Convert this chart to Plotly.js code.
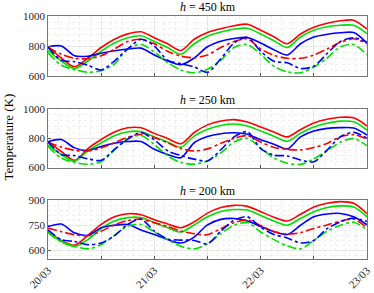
<!DOCTYPE html>
<html><head><meta charset="utf-8">
<script src="https://cdn.plot.ly/plotly-3.0.1.min.js"></script>
<style>html,body{margin:0;padding:0;background:#fff}#chart{width:374px;height:293px}</style>
</head><body><div id="chart"></div>
<script>
// hours since 20/03 00:00
const hours = [0,3,6,9,12,15,18,21,24,27,30,33,36,39,42,45,48,51,54,57,60,63,66,69,72];
const dayTickVals = [0,12,24,36,48,60,72];
const dayTickText = ['20/03','','21/03','','22/03','','23/03'];
const panelTitles = ['450 km','250 km','200 km'];

// h = 450 km
const p450RedSolid   = [795,720,662,720,790,845,881,895,855,815,770,845,890,915,935,945,905,862,815,880,925,952,968,972,912];
const p450GreenSolid = [770,700,650,700,765,820,855,868,830,790,745,815,865,893,912,918,880,835,790,860,905,928,938,938,882];
const p450BlueSolid  = [795,800,735,732,752,768,780,786,740,700,675,720,795,832,850,857,820,775,740,815,860,878,888,890,820];
const p450RedDash    = [790,745,718,715,735,780,830,845,815,765,732,722,740,790,830,848,780,738,718,718,740,780,825,848,815];
const p450GreenDash  = [755,672,642,625,635,680,780,810,760,690,640,622,645,705,790,810,745,665,628,622,660,720,795,810,740];
const p450BlueDash   = [792,705,695,672,640,700,781,845,800,705,682,660,625,715,820,857,765,698,688,650,665,750,830,855,825];

// h = 250 km
const p250RedSolid   = [777,710,650,730,792,843,872,872,834,799,763,840,892,918,928,912,878,844,810,860,905,930,944,940,884];
const p250GreenSolid = [755,690,643,715,768,818,845,846,810,775,740,815,862,888,898,884,850,815,780,835,878,903,918,913,857];
const p250BlueSolid  = [777,792,735,717,745,766,778,778,725,690,668,770,812,832,838,828,790,760,728,810,850,868,873,870,823];
const p250RedDash    = [773,740,718,714,735,770,808,827,805,770,730,714,728,766,800,818,775,738,725,721,738,765,812,825,796];
const p250GreenDash  = [745,665,635,623,640,720,798,820,758,680,635,624,645,700,775,800,735,665,630,622,660,715,775,798,750];
const p250BlueDash   = [777,690,682,660,650,725,795,840,790,715,682,658,645,722,810,845,730,685,680,652,640,720,810,841,800];

// h = 200 km
const p200RedSolid   = [715,660,632,690,755,800,818,812,782,758,735,770,822,855,868,862,830,798,775,815,858,880,890,880,818];
const p200GreenSolid = [710,655,625,665,730,775,795,795,765,735,710,752,800,832,843,840,808,775,750,790,830,855,865,858,800];
const p200BlueSolid  = [742,757,705,690,735,750,754,722,695,665,645,680,752,785,790,775,743,712,695,750,800,817,820,800,753];
const p200RedDash    = [733,712,694,688,715,752,778,786,765,743,715,700,694,730,765,782,748,713,698,706,731,752,775,786,737];
const p200GreenDash  = [705,650,625,610,635,690,745,755,710,665,625,610,640,700,750,766,710,665,628,610,660,715,750,768,723];
const p200BlueDash   = [723,665,654,635,645,688,755,786,715,668,662,660,640,715,780,800,738,695,675,645,660,730,770,792,772];

const panels = [
  {xa:'x',  ya:'y',  series:[p450RedSolid,p450GreenSolid,p450BlueSolid,p450RedDash,p450GreenDash,p450BlueDash]},
  {xa:'x2', ya:'y2', series:[p250RedSolid,p250GreenSolid,p250BlueSolid,p250RedDash,p250GreenDash,p250BlueDash]},
  {xa:'x3', ya:'y3', series:[p200RedSolid,p200GreenSolid,p200BlueSolid,p200RedDash,p200GreenDash,p200BlueDash]}
];
const colors = ['#ff0000','#00e000','#0000ff','#ff0000','#00e000','#0000ff'];
const dashes = ['solid','solid','solid','dashdot','dashdot','dashdot'];

const traces = [];
panels.forEach(p => {
  p.series.forEach((vals, i) => {
    traces.push({x: hours, y: vals, xaxis: p.xa, yaxis: p.ya, type: 'scatter', mode: 'lines',
      line: {color: colors[i], dash: dashes[i], width: 1.6, shape: 'spline', smoothing: 0.8},
      hoverinfo: 'skip', showlegend: false});
  });
});

const font = {family: 'Liberation Serif, DejaVu Serif, serif', size: 11, color: '#262626'};
function xAxis(anchor, showLabels) {
  return {anchor: anchor, range: [0,72], tickmode: 'array', tickvals: dayTickVals,
    ticktext: showLabels ? dayTickText : dayTickText.map(() => ''),
    tickangle: -45, ticks: 'inside', ticklen: 3, tickcolor: '#555',
    showline: true, mirror: true, linecolor: '#555', linewidth: 0.8,
    showgrid: true, gridcolor: '#dcdcdc', gridwidth: 0.6, zeroline: false,
    minor: {tickmode: 'linear', tick0: 0, dtick: 2.4, showgrid: true, gridcolor: '#e2e2e2', griddash: 'dot', gridwidth: 0.6},
    tickfont: font, fixedrange: true};
}
function yAxis(anchor, domain, range, tickvals, minorStep) {
  return {anchor: anchor, domain: domain, range: range, tickmode: 'array', tickvals: tickvals,
    ticks: 'inside', ticklen: 3, tickcolor: '#555',
    showline: true, mirror: true, linecolor: '#555', linewidth: 0.8,
    showgrid: true, gridcolor: '#dcdcdc', gridwidth: 0.6, zeroline: false,
    minor: {tickmode: 'linear', tick0: 0, dtick: minorStep, showgrid: true, gridcolor: '#e2e2e2', griddash: 'dot', gridwidth: 0.6},
    tickfont: font, fixedrange: true};
}

const titleFont = {family: font.family, size: 12, color: '#000'};
const layout = {
  width: 374, height: 293,
  margin: {l: 48, r: 7, t: 16, b: 34},
  paper_bgcolor: '#fff', plot_bgcolor: '#fff',
  font: font,
  xaxis: xAxis('y', false),
  xaxis2: xAxis('y2', false),
  xaxis3: xAxis('y3', true),
  yaxis: yAxis('x', [0.753, 1.0], [600, 1000], [600, 800, 1000], 40),
  yaxis2: yAxis('x2', [0.376, 0.617], [600, 1000], [600, 800, 1000], 40),
  yaxis3: yAxis('x3', [0.0, 0.243], [550, 900], [600, 750, 900], 30),
  annotations: [
    {text: '<i>h</i> = ' + panelTitles[0], xref: 'paper', yref: 'paper', x: 0.5, y: 1.0, yanchor: 'bottom', yshift: 0, showarrow: false, font: titleFont},
    {text: '<i>h</i> = ' + panelTitles[1], xref: 'paper', yref: 'paper', x: 0.5, y: 0.617, yanchor: 'bottom', yshift: 0, showarrow: false, font: titleFont},
    {text: '<i>h</i> = ' + panelTitles[2], xref: 'paper', yref: 'paper', x: 0.5, y: 0.243, yanchor: 'bottom', yshift: 0, showarrow: false, font: titleFont},
    {text: 'Temperature (K)', xref: 'paper', yref: 'paper', x: 0, xanchor: 'center', xshift: -40, y: 0.5, yanchor: 'middle', textangle: -90, showarrow: false, font: {family: font.family, size: 13, color: '#000'}}
  ]
};
Plotly.newPlot('chart', traces, layout, {staticPlot: true, displayModeBar: false});
</script></body></html>
